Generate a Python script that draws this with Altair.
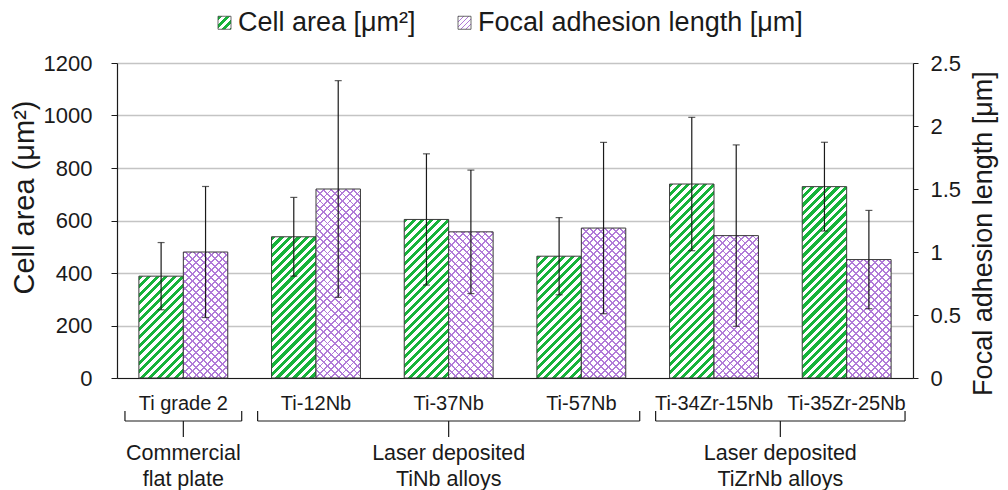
import math
import json
import altair as alt

# ---------------- data ----------------
categories = ["Ti grade 2", "Ti-12Nb", "Ti-37Nb", "Ti-57Nb", "Ti-34Zr-15Nb", "Ti-35Zr-25Nb"]
cell_area = [388, 538, 604, 464, 739, 729]
cell_area_sd = [128, 150, 250, 147, 254, 169]
focal_len = [1.00, 1.50, 1.16, 1.19, 1.13, 0.94]
focal_len_sd = [0.52, 0.86, 0.49, 0.68, 0.72, 0.39]
series = ["Cell area [μm²]", "Focal adhesion length [μm]"]
group_labels = ["Commercial\nflat plate", "Laser deposited\nTiNb alloys", "Laser deposited\nTiZrNb alloys"]
group_first = [0, 1, 4]
group_last = [0, 3, 5]
cell_ticks = [0, 200, 400, 600, 800, 1000, 1200]
focal_ticks = [0, 0.5, 1, 1.5, 2, 2.5]

# ---------------- styling ----------------
W, H = 796, 315
PAD_IN, PAD_OUT = 0.33, 0.165
CELL_MAX, FOCAL_MAX = 1200, 2.5
GREEN = "#17b33a"
PURPLE = "#b17bd8"
WHITE = "#ffffff"
CLEAR = "rgba(255,255,255,0)"
INK = "#1a1a1a"
FONT = "Liberation Sans"
INSET = 0.06

step = W / (len(categories) - PAD_IN + 2 * PAD_OUT)
bar_w = step * (1 - PAD_IN) / 2


def stripes(w, h, period, frac, on, off, rising=True):
    """Linear gradient (bounding-box units) that draws 45 degree stripes."""
    L = w + h
    s = L / (w * w + h * h)
    if rising:
        x1, y1, x2, y2 = 0, 0, w * s, h * s
    else:
        x1, y1, x2, y2 = 0, 1, w * s, 1 - h * s
    stops = []
    n = int(math.ceil(L / period))
    for k in range(n):
        a = min(k * period / L, 1)
        b = min((k + frac) * period / L, 1)
        c = min((k + 1) * period / L, 1)
        stops += [
            {"offset": round(a, 5), "color": on},
            {"offset": round(b, 5), "color": on},
            {"offset": round(b, 5), "color": off},
            {"offset": round(c, 5), "color": off},
        ]
    return {"gradient": "linear", "x1": round(x1, 5), "y1": round(y1, 5),
            "x2": round(x2, 5), "y2": round(y2, 5), "stops": stops}


cell_rows = []
for c, v, sd in zip(categories, cell_area, cell_area_sd):
    h = max(v / CELL_MAX * H, 1)
    cell_rows.append({"cat": c, "s": "cell", "v": v, "lo": v - sd, "hi": v + sd,
                      "g": stripes(bar_w, h, 8.5, 0.5, GREEN, WHITE, True)})

focal_rows = []
for c, v, sd in zip(categories, focal_len, focal_len_sd):
    h = max(v / FOCAL_MAX * H, 1)
    focal_rows.append({"cat": c, "s": "focal", "v": v, "lo": v - sd, "hi": v + sd,
                       "g1": stripes(bar_w, h, 7.5, 0.26, PURPLE, WHITE, True),
                       "g2": stripes(bar_w, h, 7.5, 0.26, PURPLE, CLEAR, False)})

cell_data = alt.Data(values=cell_rows)
focal_data = alt.Data(values=focal_rows)

x_enc = alt.X("cat:N", sort=categories,
              scale=alt.Scale(paddingInner=PAD_IN, paddingOuter=PAD_OUT),
              axis=alt.Axis(title=None, labelAngle=0, ticks=False, tickSize=0,
                            labelPadding=15, labelFontSize=20, labelColor=INK,
                            domainColor=INK, domainWidth=1.2, grid=False,
                            labelOverlap=False, labelLimit=300))
xo_enc = alt.XOffset("s:N", scale=alt.Scale(domain=["cell", "focal"], paddingInner=0, paddingOuter=0))

cell_axis = alt.Axis(values=cell_ticks, format="d", title="Cell area (μm²)", titleFontSize=29,
                     titleFontWeight="normal", titleColor=INK, titleX=-93, titleY=134,
                     titleAngle=270, titleBaseline="middle", titleAlign="center",
                     labelFontSize=22, labelColor=INK, labelPadding=19, tickSize=6,
                     tickColor=INK, domainColor=INK, domainWidth=1.2, grid=True,
                     gridColor="#c4c4c4", gridWidth=1.4)
cell_scale = alt.Scale(domain=[0, CELL_MAX], nice=False, zero=True)

focal_axis = alt.Axis(orient="right", values=focal_ticks, format=".1~f",
                      title="Focal adhesion length [μm]", titleFontSize=27,
                      titleFontWeight="normal", titleColor=INK, titleX=70, titleY=170,
                      titleAngle=270, titleBaseline="middle", titleAlign="center",
                      labelFontSize=22, labelColor=INK, labelPadding=12, tickSize=5,
                      tickColor=INK, domainColor=INK, domainWidth=1.2, grid=False)
focal_scale = alt.Scale(domain=[0, FOCAL_MAX], nice=False, zero=True)


def yenc(field, scale, axis):
    return alt.Y(field, scale=scale, axis=axis, stack=None)


def err_layers(data, scale, axis):
    rule = alt.Chart(data).mark_rule(color=INK, strokeWidth=1.2).encode(
        x=x_enc, xOffset=xo_enc, y=yenc("lo:Q", scale, axis), y2="hi:Q")
    cap_hi = alt.Chart(data).mark_tick(orient="horizontal", size=7, thickness=1.2, color=INK).encode(
        x=x_enc, xOffset=xo_enc, y=yenc("hi:Q", scale, axis))
    cap_lo = alt.Chart(data).mark_tick(orient="horizontal", size=7, thickness=1.2, color=INK).encode(
        x=x_enc, xOffset=xo_enc, y=yenc("lo:Q", scale, axis))
    return [rule, cap_hi, cap_lo]


cell_bars = alt.Chart(cell_data).mark_bar(stroke="#3a3a3a", strokeWidth=1).encode(
    x=x_enc, xOffset=xo_enc, y=yenc("v:Q", cell_scale, cell_axis),
    fill=alt.Fill("g:N", scale=None, legend=None))
cell_group = alt.layer(cell_bars, *err_layers(cell_data, cell_scale, cell_axis))

focal_bars1 = alt.Chart(focal_data).mark_bar(strokeWidth=0).encode(
    x=x_enc, xOffset=xo_enc, y=yenc("v:Q", focal_scale, focal_axis),
    fill=alt.Fill("g1:N", scale=None, legend=None))
focal_bars2 = alt.Chart(focal_data).mark_bar(stroke="#3a3a3a", strokeWidth=1).encode(
    x=x_enc, xOffset=xo_enc, y=yenc("v:Q", focal_scale, focal_axis),
    fill=alt.Fill("g2:N", scale=None, legend=None))
focal_group = alt.layer(focal_bars1, focal_bars2, *err_layers(focal_data, focal_scale, focal_axis))

bars = alt.layer(cell_group, focal_group).resolve_scale(y="independent")

# ---------------- category braces ----------------
brace_rows = []
end_rows = []
for lab, f, l in zip(group_labels, group_first, group_last):
    a = f + INSET
    b = l + 1 - INSET
    brace_rows.append({"a": a, "b": b, "m": (a + b) / 2, "label": lab})
    end_rows += [{"p": a}, {"p": b}]

slot_scale = alt.Scale(domain=[0, len(categories)], nice=False, zero=False)
brace_line = alt.Chart(alt.Data(values=brace_rows)).mark_rule(color=INK, strokeWidth=1.2).encode(
    x=alt.X("a:Q", scale=slot_scale, axis=None), x2="b:Q", y=alt.value(358))
brace_ends = alt.Chart(alt.Data(values=end_rows)).mark_rule(color=INK, strokeWidth=1.2).encode(
    x=alt.X("p:Q", scale=slot_scale, axis=None), y=alt.value(348), y2=alt.value(358))
brace_mid = alt.Chart(alt.Data(values=brace_rows)).mark_rule(color=INK, strokeWidth=1.2).encode(
    x=alt.X("m:Q", scale=slot_scale, axis=None), y=alt.value(358), y2=alt.value(374))
group_text = alt.Chart(alt.Data(values=brace_rows)).mark_text(
    fontSize=21.5, lineBreak="\n", lineHeight=26, baseline="top", align="center", color=INK).encode(
    x=alt.X("m:Q", scale=slot_scale, axis=None), y=alt.value(380), text="label:N")
braces = alt.layer(brace_line, brace_ends, brace_mid, group_text)

# ---------------- legend ----------------
leg_cell = stripes(13, 13, 8, 0.5, GREEN, WHITE, True)
leg_focal = stripes(13, 13, 5, 0.3, PURPLE, WHITE, True)
legend_layer = alt.Chart(alt.Data(values=[{"k": s} for s in series])).mark_bar().encode(
    color=alt.Color("k:N", scale=alt.Scale(domain=series,
                                           range=[{"expr": json.dumps(leg_cell)},
                                                  {"expr": json.dumps(leg_focal)}]),
                    legend=alt.Legend(orient="none", legendX=94, legendY=-54, direction="horizontal",
                                      title=None, labelFontSize=27, labelColor=INK, labelLimit=600,
                                      symbolType="square", symbolSize=169,
                                      symbolStrokeColor="#444444", symbolStrokeWidth=0.8,
                                      labelOffset=0, columnPadding=35))
).transform_filter("false")

chart = alt.layer(bars, braces, legend_layer).resolve_scale(x="independent").properties(
    width=W, height=H,
    autosize=alt.AutoSizeParams(type="none"),
    padding={"left": 109, "top": 55, "right": 87, "bottom": 114},
).configure(font=FONT).configure_view(stroke=None)

chart.save("out.html", embed_options={"renderer": "svg", "actions": False})
